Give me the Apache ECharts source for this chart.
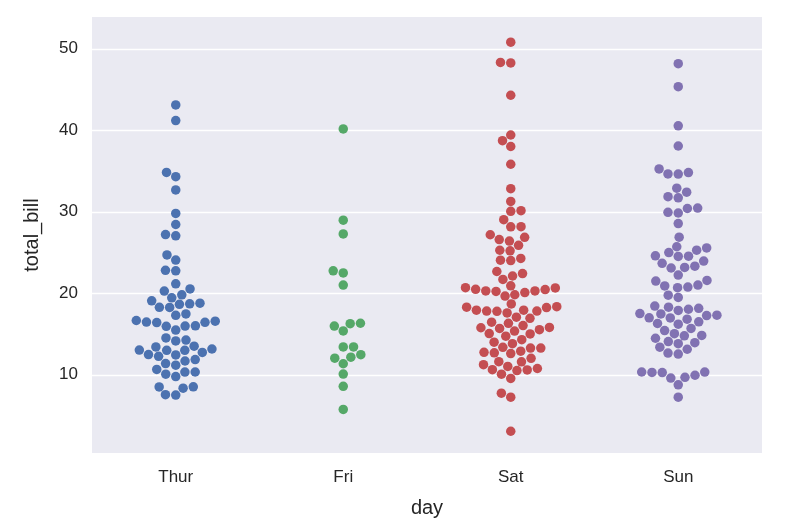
<!DOCTYPE html>
<html>
<head>
<meta charset="utf-8">
<script src="https://cdn.jsdelivr.net/npm/echarts@6/dist/echarts.min.js"></script>
<style>
  html, body { margin: 0; padding: 0; background: #fff; }
  #main { width: 808px; height: 530px; }
</style>
</head>
<body>
<div id="main"></div>
<script>
// days on the x axis
var days = ['Thur', 'Fri', 'Sat', 'Sun'];
var dayColors = ['#4C72B0', '#55A868', '#C44E52', '#8172B2'];
var yTicks = [10, 20, 30, 40, 50];

// total_bill per day
var thur = [27.20, 22.76, 17.29, 19.44, 16.66, 10.07, 32.68, 15.98, 34.83, 13.03, 18.28, 24.71, 21.16,
  10.65, 12.43, 24.08, 11.69, 13.42, 14.26, 15.95, 12.48, 29.80, 8.52, 14.52, 11.38, 22.82, 19.08,
  20.27, 11.17, 12.26, 18.26, 8.51, 10.33, 14.15, 16.00, 13.16, 17.47, 34.30, 41.19, 27.05, 16.43,
  8.35, 18.64, 11.87, 9.78, 7.51, 19.81, 28.44, 15.48, 16.58, 7.56, 10.34, 43.11, 13.00, 13.51,
  18.71, 12.74, 13.00, 16.40, 20.53, 16.47, 18.78];
var fri = [28.97, 22.49, 5.75, 16.32, 22.75, 40.17, 27.28, 12.03, 21.01, 12.46, 11.35, 15.38,
  12.16, 13.42, 8.58, 15.98, 13.42, 16.27, 10.09];
var sat = [20.65, 17.92, 20.29, 15.77, 39.42, 19.82, 17.81, 13.37, 12.69, 21.70, 19.65, 9.55, 18.35,
  15.06, 20.69, 17.78, 24.06, 16.31, 16.93, 18.69, 31.27, 16.04, 38.01, 26.41, 11.24, 48.27, 20.29,
  13.81, 11.02, 18.29, 17.59, 20.08, 16.45, 3.07, 20.23, 15.01, 12.02, 17.07, 26.86, 25.28, 14.73,
  10.51, 17.92, 44.30, 22.42, 20.92, 15.36, 20.49, 25.21, 18.24, 14.31, 14.00, 7.25, 10.59, 10.63,
  50.81, 15.81, 26.59, 38.73, 24.27, 12.76, 30.06, 25.89, 48.33, 13.27, 28.17, 12.90, 28.15, 11.59,
  7.74, 30.14, 20.45, 13.28, 22.12, 24.01, 15.69, 11.61, 10.77, 15.53, 10.07, 12.60, 32.83, 35.83,
  29.03, 27.18, 22.67, 17.82];
var sun = [16.99, 10.34, 21.01, 23.68, 24.59, 25.29, 8.77, 26.88, 15.04, 14.78, 10.27, 35.26, 15.42,
  18.43, 14.83, 21.58, 10.33, 16.29, 16.97, 17.46, 13.94, 9.68, 30.40, 18.29, 22.23, 32.40, 28.55,
  18.04, 12.54, 10.29, 34.81, 9.94, 25.56, 19.49, 38.07, 23.95, 25.71, 17.31, 29.93, 14.07, 13.13,
  17.26, 24.55, 19.77, 29.85, 48.17, 25.00, 13.39, 16.49, 21.50, 12.66, 16.21, 13.81, 17.51, 24.52,
  20.76, 31.71, 7.25, 31.85, 16.82, 32.90, 17.89, 14.48, 9.60, 34.63, 34.65, 23.33, 45.35, 23.17,
  40.55, 20.69, 20.90, 30.46, 18.15, 23.10, 15.69];
var billsByDay = [thur, fri, sat, sun];

var textColor = '#262626';
var fontFam = 'Liberation Sans, Arial, sans-serif';
var dotDiam = 9.8;   // swarm spacing in px

var chart = echarts.init(document.getElementById('main'));

var option = {
  animation: false,
  grid: {
    left: 92, right: 46, top: 17, bottom: 77,
    show: true, backgroundColor: '#EAEAF2', borderWidth: 0
  },
  xAxis: [
    {
      type: 'category',
      data: days,
      name: 'day',
      nameLocation: 'middle',
      nameGap: 45,
      nameTextStyle: { color: textColor, fontSize: 20, fontFamily: fontFam },
      axisLine: { show: false },
      axisTick: { show: false },
      axisLabel: { color: textColor, fontSize: 17, fontFamily: fontFam, margin: 16 },
      splitLine: { show: false }
    },
    {
      type: 'value', min: -0.5, max: 3.5, show: false
    }
  ],
  yAxis: {
    type: 'value',
    min: 0.4, max: 53.9,
    name: 'total_bill',
    nameLocation: 'middle',
    nameGap: 50,
    nameTextStyle: { color: textColor, fontSize: 20, fontFamily: fontFam },
    axisLine: { show: false },
    axisTick: { show: false, customValues: yTicks },
    axisLabel: { color: textColor, fontSize: 17, fontFamily: fontFam, margin: 14, customValues: yTicks },
    splitLine: { show: true, lineStyle: { color: '#ffffff', width: 1.4 } }
  },
  series: []
};
chart.setOption(option);

// beeswarm layout in pixel space, like seaborn's swarmplot
function swarm(values) {
  var pts = values.map(function (v, i) {
    return { v: v, i: i, y: -chart.convertToPixel({ yAxisIndex: 0 }, v), x: 0 };
  });
  pts.sort(function (a, b) { return a.y - b.y; });
  var placed = [];
  pts.forEach(function (p) {
    var nb = placed.filter(function (q) { return Math.abs(p.y - q.y) < dotDiam; });
    var cands = [0];
    var leftFirst = true;
    nb.forEach(function (q) {
      var dy = p.y - q.y;
      var dx = Math.sqrt(Math.max(dotDiam * dotDiam - dy * dy, 0)) * 1.05;
      if (leftFirst) cands.push(q.x - dx, q.x + dx);
      else cands.push(q.x + dx, q.x - dx);
      leftFirst = !leftFirst;
    });
    var order = cands.map(function (c, k) { return [Math.abs(c), k, c]; });
    order.sort(function (a, b) { return a[0] - b[0] || a[1] - b[1]; });
    for (var k = 0; k < order.length; k++) {
      var c = order[k][2];
      var ok = nb.every(function (q) {
        var ddx = c - q.x, ddy = p.y - q.y;
        return ddx * ddx + ddy * ddy >= dotDiam * dotDiam - 1e-6;
      });
      if (ok) { p.x = c; break; }
    }
    placed.push(p);
  });
  return pts;
}

var pxPerUnit = chart.convertToPixel({ xAxisIndex: 1 }, 1) - chart.convertToPixel({ xAxisIndex: 1 }, 0);

var series = billsByDay.map(function (vals, d) {
  var pts = swarm(vals);
  return {
    name: days[d],
    type: 'scatter',
    xAxisIndex: 1,
    symbolSize: 9.5,
    itemStyle: { color: dayColors[d], opacity: 1 },
    data: pts.map(function (p) { return [d + p.x / pxPerUnit, p.v]; })
  };
});

chart.setOption({ series: series });
</script>
</body>
</html>
